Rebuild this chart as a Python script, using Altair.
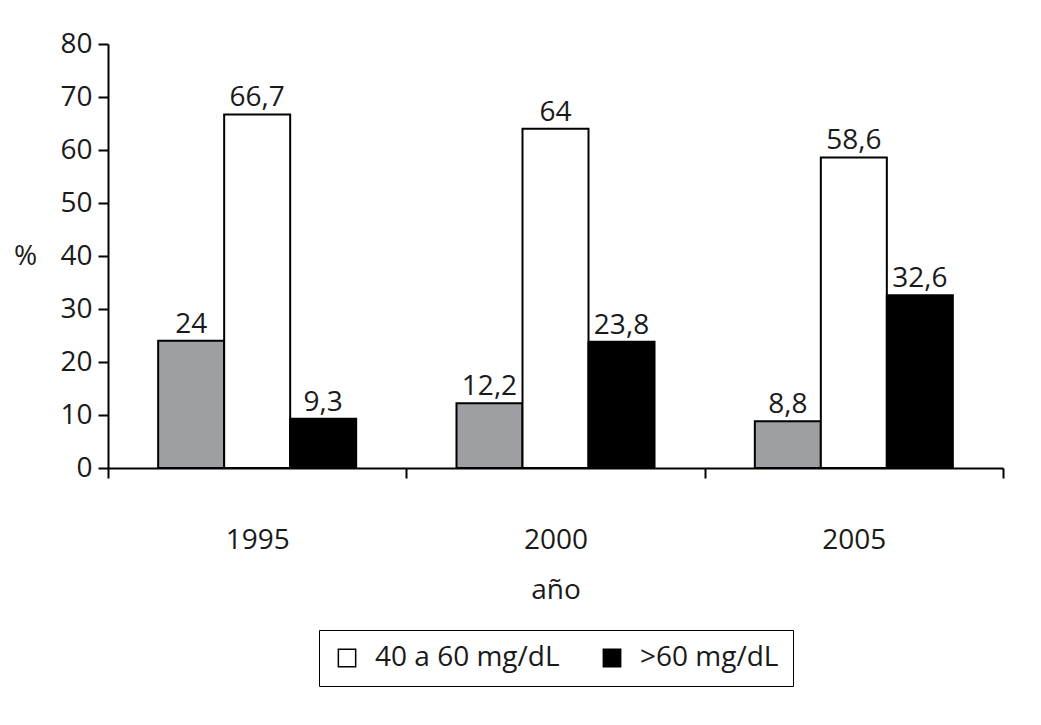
import altair as alt
import pandas as pd

years = ["1995", "2000", "2005"]
series = ["<40 mg/dL", "40 a 60 mg/dL", ">60 mg/dL"]
low = [24, 12.2, 8.8]
mid = [66.7, 64, 58.6]
high = [9.3, 23.8, 32.6]
colors = ["#9d9fa3", "#ffffff", "#000000"]

rows = []
for i, y in enumerate(years):
    for s, vals in zip(series, [low, mid, high]):
        v = vals[i]
        rows.append({"year": y, "serie": s, "value": v,
                     "label": f"{v:g}".replace(".", ",")})
df = pd.DataFrame(rows)

FONT = "Open Sans"
TXT = "#1a1a1a"

x = alt.X("year:N", sort=years, scale=alt.Scale(paddingInner=0, paddingOuter=0),
          axis=alt.Axis(title="año", labelAngle=0, tickBand="extent", tickSize=10,
                        tickWidth=2, domainWidth=2, labelPadding=48, titlePadding=22,
                        labelFontSize=28, titleFontSize=28, titleFontWeight="normal",
                        labelColor=TXT, titleColor=TXT))
xo = alt.XOffset("serie:N", sort=series, scale=alt.Scale(paddingInner=0, paddingOuter=0.76))
y = alt.Y("value:Q", scale=alt.Scale(domain=[0, 80]),
          axis=alt.Axis(title="%", values=list(range(0, 81, 10)), grid=False,
                        tickSize=10, tickWidth=2, domainWidth=2, labelPadding=6,
                        labelFontSize=28, titleFontSize=28, titleFontWeight="normal",
                        titleAngle=0, titleX=-83, titleY=212, titleAlign="center",
                        titleBaseline="middle", labelColor=TXT, titleColor=TXT))

bars = alt.Chart(df).mark_bar(stroke="black", strokeWidth=2).encode(
    x=x, xOffset=xo, y=y,
    color=alt.Color("serie:N", sort=series,
                    scale=alt.Scale(domain=series, range=colors),
                    legend=alt.Legend(title=None, values=["40 a 60 mg/dL", ">60 mg/dL"],
                                      orient="none", legendX=211, legendY=586,
                                      direction="horizontal", strokeColor="black",
                                      padding=14, symbolType="square", symbolSize=300,
                                      symbolStrokeColor="black", symbolStrokeWidth=1.5,
                                      labelFontSize=28, labelColor=TXT, labelLimit=500,
                                      columnPadding=38, labelOffset=14)),
)

labels = alt.Chart(df).mark_text(baseline="alphabetic", dy=-8, fontSize=28, color=TXT,
                                 font=FONT).encode(
    x=alt.X("year:N", sort=years), xOffset=alt.XOffset("serie:N", sort=series),
    y="value:Q", text="label:N")

chart = (bars + labels).properties(
    width=895, height=424,
    autosize=alt.AutoSizeParams(type="none"),
    padding={"left": 100, "top": 36, "right": 30, "bottom": 250},
).configure(font=FONT).configure_view(stroke=None).configure_axis(
    domainColor="black", tickColor="black", labelFont=FONT, titleFont=FONT
).configure_legend(labelFont=FONT)

chart.save("out.html", embed_options={"renderer": "svg", "actions": False})
